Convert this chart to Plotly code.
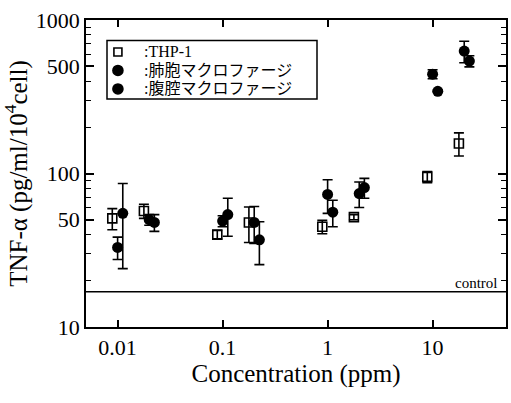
import numpy as np
import plotly.graph_objects as go

# Concentrations tested (ppm)
concentration = [0.01, 0.02, 0.1, 0.2, 1, 2, 10, 20]

# TNF-alpha production (pg/ml/10^4 cell), mean and error
thp1_mean = [51, 57, 40, 48, 45, 52, 95, 157]
thp1_err = [8, 6, 2.5, 12.5, 4.5, 2, 8, 27]

alveolar_mean = [33, 50, 49, 48, 73, 74, 444, 627]
alveolar_err = [5.5, 4, 4, 13, 18, 14, 30, 100]

peritoneal_mean = [55, 48, 54, 37, 56, 81, 343, 540]
peritoneal_err = [31, 6, 15, 11.5, 11, 12, 5, 45]

series_names = [":THP-1", ":肺胞マクロファージ", ":腹腔マクロファージ"]

control_level = 17
x_limits = [0.005, 50]
y_limits = [10, 1000]

# small horizontal offsets so the three series do not overlap
offsets = [0.89, 1.0, 1.12]

serif = "Liberation Serif, Times New Roman, Noto Sans CJK JP, serif"

fig = go.Figure()

# control level line
fig.add_trace(go.Scatter(
    x=x_limits, y=[control_level, control_level], mode="lines",
    line=dict(color="black", width=1.5), showlegend=False, hoverinfo="skip"))

styles = [
    dict(symbol="square-open", size=9, color="black", line=dict(color="black", width=1.6)),
    dict(symbol="circle", size=11, color="black"),
    dict(symbol="circle", size=11, color="black"),
]
means = [thp1_mean, alveolar_mean, peritoneal_mean]
errs = [thp1_err, alveolar_err, peritoneal_err]

for name, m, e, off, st in zip(series_names, means, errs, offsets, styles):
    fig.add_trace(go.Scatter(
        x=[c * off for c in concentration], y=m, mode="markers", name=name,
        marker=st, showlegend=False,
        error_y=dict(type="data", array=e, visible=True, color="black",
                     thickness=1.6, width=5),
    ))

# compact key box in the upper left of the plot area
key_left, key_right, key_top, key_bottom = 0.05, 0.55, 0.933, 0.743
fig.add_shape(type="rect", xref="paper", yref="paper",
              x0=key_left, x1=key_right, y0=key_bottom, y1=key_top,
              line=dict(color="black", width=1.5), fillcolor="white", layer="above")
row_step = 0.0603
for i, (name, st) in enumerate(zip(series_names, styles)):
    yc = key_top - 0.037 - i * row_step
    r = 4 if st["symbol"] == "square-open" else 5
    fig.add_shape(
        type="rect" if st["symbol"] == "square-open" else "circle",
        xref="paper", yref="paper", xsizemode="pixel", ysizemode="pixel",
        xanchor=key_left + 0.026, yanchor=yc, x0=-r, x1=r, y0=-r, y1=r,
        line=dict(color="black", width=1.6),
        fillcolor="white" if st["symbol"] == "square-open" else "black",
        layer="above")
    fig.add_annotation(
        x=key_left + 0.085, xref="paper", xanchor="left", y=yc, yref="paper",
        yanchor="middle", text=name, showarrow=False, borderpad=0,
        font=dict(family=serif, size=16, color="black"))

fig.add_annotation(
    x=1, xref="paper", xanchor="right", y=np.log10(control_level), yref="y",
    yanchor="bottom", text="control", showarrow=False,
    font=dict(family=serif, size=15, color="black"), xshift=-6, yshift=-1)

axis_common = dict(showline=True, linecolor="black", linewidth=1.5, mirror="ticks",
                   ticks="inside", tickcolor="black", tickwidth=1.5, showgrid=False,
                   zeroline=False, tickfont=dict(family=serif, size=22, color="black"))

fig.update_xaxes(
    type="log", range=[np.log10(x_limits[0]), np.log10(x_limits[1])],
    tickvals=[0.01, 0.1, 1, 10], ticktext=["0.01", "0.1", "1", "10"], ticklen=7,
    title=dict(text="Concentration (ppm)", font=dict(family=serif, size=25, color="black"),
               standoff=4),
    **axis_common)

fig.update_yaxes(
    type="log", range=[np.log10(y_limits[0]), np.log10(y_limits[1])],
    tickvals=[10, 50, 100, 500, 1000], ticktext=["10", "50", "100", "500", "1000"],
    ticklen=8,
    minor=dict(tickvals=[20, 30, 40, 60, 70, 80, 90, 200, 300, 400, 600, 700, 800, 900],
               ticks="inside", ticklen=5, tickcolor="black", tickwidth=1.2),
    title=dict(text="TNF-α (pg/ml/10<sup>4</sup>cell)",
               font=dict(family=serif, size=25, color="black"), standoff=2),
    **axis_common)

fig.update_layout(
    width=511, height=403,
    margin=dict(l=86, r=3, t=20, b=76),
    plot_bgcolor="white", paper_bgcolor="white",
    showlegend=False,
)

fig.write_html("out.html")
